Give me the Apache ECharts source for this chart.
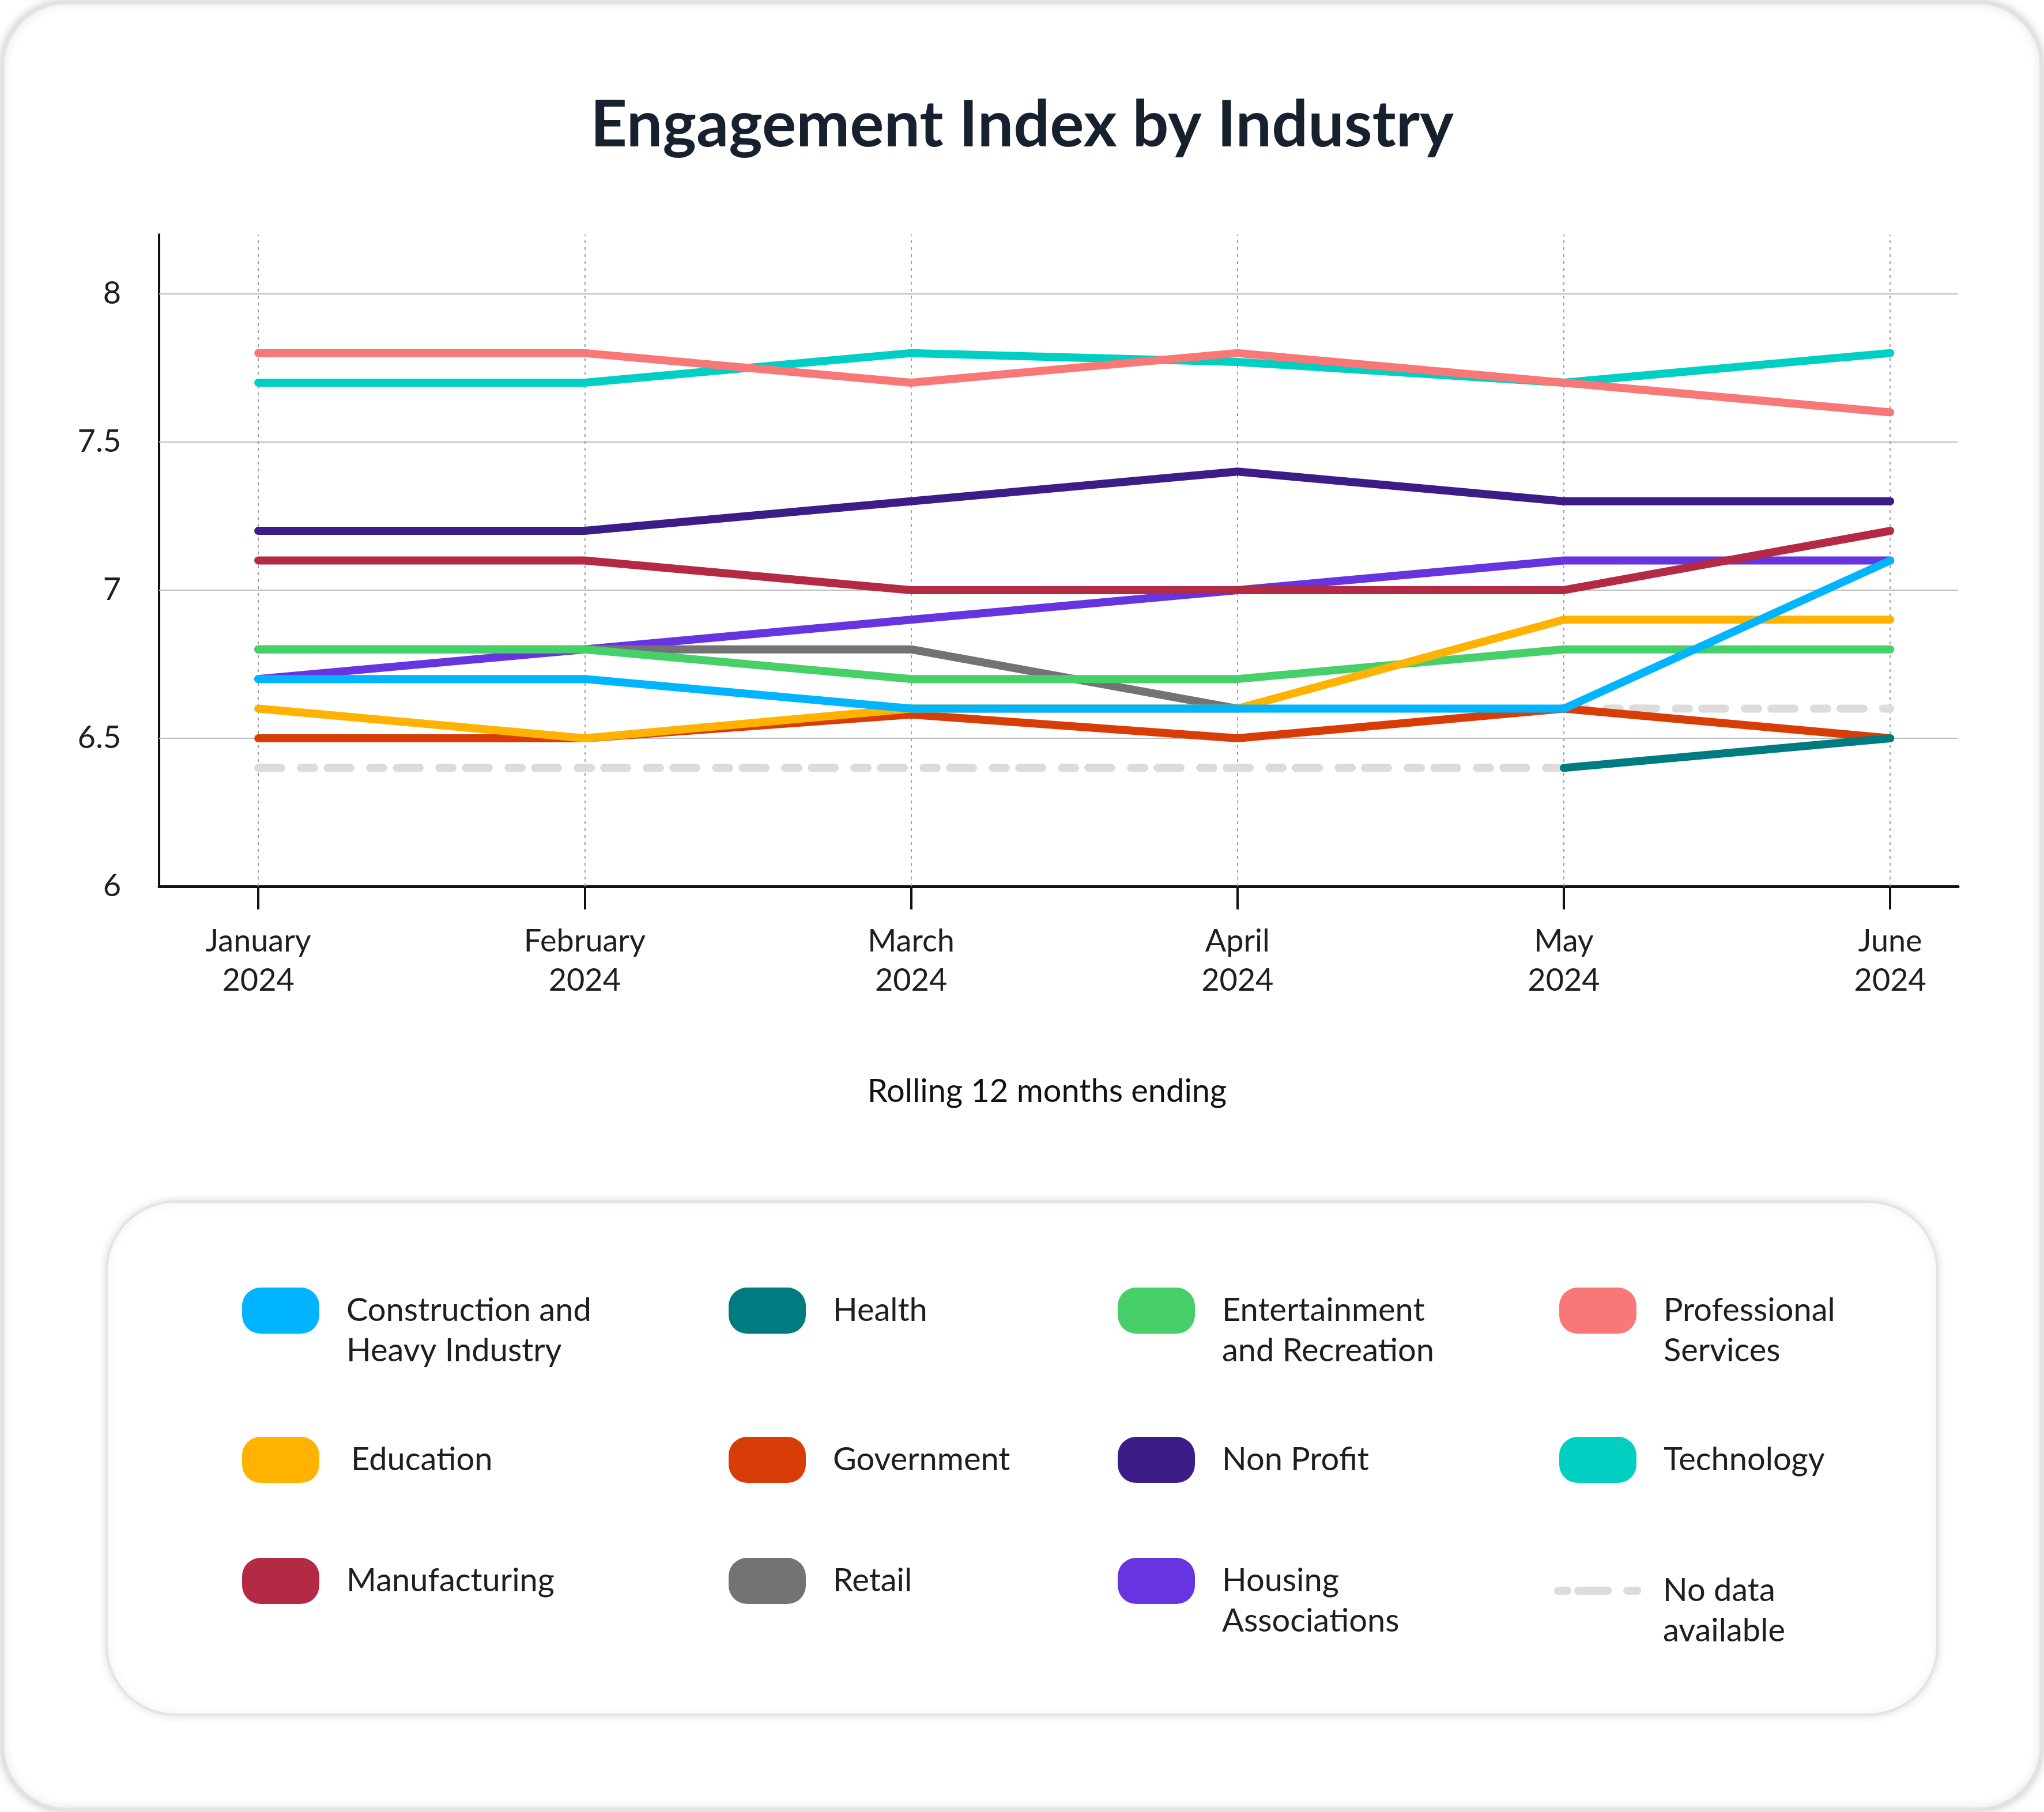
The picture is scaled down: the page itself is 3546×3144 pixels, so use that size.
<!DOCTYPE html>
<html><head><meta charset="utf-8">
<script src="https://cdn.jsdelivr.net/npm/echarts@6/dist/echarts.min.js"></script>
<style>html,body{margin:0;padding:0;background:#fff}#c{width:3546px;height:3144px}</style>
</head><body><div id="c"></div>
<script>
// ---------- DATA ----------
const months = ['January\n2024','February\n2024','March\n2024','April\n2024','May\n2024','June\n2024'];
const monthIdx = [0, 1, 2, 3, 4, 5];
const yTicks = [6, 6.5, 7, 7.5, 8];
const construction  = [6.7, 6.7, 6.6, 6.6, 6.6, 7.1];
const health        = [null, null, null, null, 6.4, 6.5];
const entertainment = [6.8, 6.8, 6.7, 6.7, 6.8, 6.8];
const professional  = [7.8, 7.8, 7.7, 7.8, 7.7, 7.6];
const education     = [6.6, 6.5, 6.6, 6.6, 6.9, 6.9];
const government    = [6.5, 6.5, 6.58, 6.5, 6.6, 6.5];
const nonProfit     = [7.2, 7.2, 7.3, 7.4, 7.3, 7.3];
const technology    = [7.7, 7.7, 7.8, 7.77, 7.7, 7.8];
const manufacturing = [7.1, 7.1, 7.0, 7.0, 7.0, 7.2];
const retail        = [6.8, 6.8, 6.8, 6.6, null, null];
const housing       = [6.7, 6.8, 6.9, 7.0, 7.1, 7.1];
const noDataHealth  = [6.4, 6.4, 6.4, 6.4, 6.4, null];
const noDataRetail  = [null, null, null, null, 6.6, 6.6];

const names = {
  construction: 'Construction and Heavy Industry', health: 'Health',
  entertainment: 'Entertainment and Recreation', professional: 'Professional Services',
  education: 'Education', government: 'Government', nonProfit: 'Non Profit',
  technology: 'Technology', manufacturing: 'Manufacturing', retail: 'Retail',
  housing: 'Housing Associations', noData: 'No data available'
};
const legendLabels = {
  'Construction and Heavy Industry': 'Construction and\nHeavy Industry',
  'Entertainment and Recreation': 'Entertainment\nand Recreation',
  'Professional Services': 'Professional\nServices',
  'Housing Associations': 'Housing\nAssociations',
  'No data available': 'No data\navailable'
};

// ---------- STYLE ----------
const FONT = 'Lato';
const LW = 14;
const colors = {
  construction: '#00b4ff', health: '#007b80', entertainment: '#47cf6a',
  professional: '#f87878', education: '#ffb300', government: '#d93d07',
  nonProfit: '#3c1c87', technology: '#00cfc2', manufacturing: '#b42a45',
  retail: '#737373', housing: '#6634e0', noData: '#dedbdb'
};
const toPairs = arr => arr.map((v, i) => [monthIdx[i], v == null ? '-' : v]);

function lineSeries(key, data, extra) {
  return Object.assign({
    type: 'line', name: names[key], data: toPairs(data),
    showSymbol: false, symbol: 'none', smooth: false, connectNulls: false,
    lineStyle: { color: colors[key], width: LW, cap: 'round', join: 'round' },
    itemStyle: { color: colors[key], borderWidth: 0 },
    emphasis: { disabled: true }, animation: false
  }, extra || {});
}
const dashPattern = [40, 34, 23, 23];
const noDataStyle = { color: colors.noData, width: LW, cap: 'round', type: dashPattern };

const series = [
  lineSeries('noData', noDataHealth, {
    lineStyle: noDataStyle,
    markLine: {
      silent: true, symbol: ['none', 'none'], animation: false, z: 1,
      label: { show: false },
      data: yTicks.filter(v => v > yTicks[0]).map(v => ({ yAxis: v, lineStyle: { color: '#bdbdbd', width: 2, type: 'solid' } }))
        .concat(monthIdx.map(i => ({ xAxis: i, lineStyle: { color: '#a0a0a0', width: 2, type: [5, 7] } })))
    }
  }),
  lineSeries('noData', noDataRetail, { lineStyle: noDataStyle }),
  lineSeries('technology', technology),
  lineSeries('professional', professional),
  lineSeries('nonProfit', nonProfit),
  lineSeries('housing', housing),
  lineSeries('manufacturing', manufacturing),
  lineSeries('retail', retail),
  lineSeries('entertainment', entertainment),
  lineSeries('government', government),
  lineSeries('education', education),
  lineSeries('construction', construction),
  lineSeries('health', health)
];

// legend layout: 4 columns x 3 rows
const legendGrid = [
  ['construction', 'health', 'entertainment', 'professional'],
  ['education', 'government', 'nonProfit', 'technology'],
  ['manufacturing', 'retail', 'housing', 'noData']
];
const colX = [420, 1264, 1939, 2705];
const rowY = [2274, 2533, 2743];
const pillIcon = 'path://M32,0 H102 A32,32 0 0 1 134,32 V48 A32,32 0 0 1 102,80 H32 A32,32 0 0 1 0,48 V32 A32,32 0 0 1 32,0 Z';
const dashIcon = 'path://M7,0 H23 A7,7 0 0 1 23,14 H7 A7,7 0 0 1 7,0 Z M42,0 H93 A7,7 0 0 1 93,14 H42 A7,7 0 0 1 42,0 Z M127,0 H144 A7,7 0 0 1 144,14 H127 A7,7 0 0 1 127,0 Z';
const LH = 70;
const legends = [];
legendGrid.forEach((row, r) => row.forEach((key, c) => {
  const nm = names[key];
  const label = legendLabels[nm] || nm;
  const lines = label.split('\n').length;
  const isDash = key === 'noData';
  const cy = isDash ? 2760 : rowY[r];
  const iconH = isDash ? 14 : 80;
  const blockH = Math.max(iconH, lines === 2 ? LH * 3 : LH);
  legends.push({
    data: [nm], orient: 'vertical', left: colX[c] - (isDash ? 9 : 0), top: cy - blockH / 2,
    padding: 0, selectedMode: false,
    icon: isDash ? dashIcon : pillIcon,
    itemWidth: isDash ? 151 : 134, itemHeight: iconH,
    itemStyle: { borderWidth: 0 },
    // a leading blank line keeps the first text line level with the icon
    formatter: n => { const t = legendLabels[n] || n; return t.indexOf('\n') >= 0 ? ' \n' + t : t; },
    textStyle: {
      fontFamily: FONT, fontSize: 56, lineHeight: LH, color: '#1e1e1e',
      padding: [0, 0, 0, isDash ? 33 : (key === 'education' ? 50 : 42)]
    }
  });
}));

const option = {
  backgroundColor: '#ffffff',
  animation: false,
  title: {
    text: 'Engagement Index by Industry', left: 'center', top: 158,
    textStyle: { fontFamily: FONT, fontWeight: 'bold', fontSize: 111, color: '#17212d' }
  },
  graphic: [
    { type: 'rect', z: -10, silent: true,
      shape: { x: 4, y: 4, width: 3538, height: 3136, r: 110 },
      style: { fill: '#ffffff', stroke: '#e2e2e2', lineWidth: 7, shadowBlur: 16, shadowColor: 'rgba(0,0,0,0.15)' } },
    { type: 'rect', z: -5, silent: true,
      shape: { x: 185, y: 2085, width: 3176, height: 890, r: 120 },
      style: { fill: '#ffffff', stroke: '#e4e4e4', lineWidth: 4, shadowBlur: 16, shadowColor: 'rgba(0,0,0,0.12)' } }
  ],
  grid: { left: 276, right: 149, top: 407, bottom: 1606, containLabel: false },
  xAxis: {
    type: 'value', min: -0.304, max: 5.208,
    axisLine: { show: true, onZero: false, lineStyle: { color: '#111', width: 5 } },
    axisTick: { show: true, customValues: monthIdx, length: 40, lineStyle: { color: '#111', width: 4 } },
    axisLabel: {
      customValues: monthIdx, formatter: v => months[Math.round(v)],
      margin: 62, fontFamily: FONT, fontSize: 54, lineHeight: 68, color: '#1e1e1e'
    },
    splitLine: { show: false },
    name: 'Rolling 12 months ending', nameLocation: 'middle', nameGap: 328,
    nameTextStyle: { fontFamily: FONT, fontSize: 56, color: '#111', padding: [0, 40, 0, 0] }
  },
  yAxis: {
    type: 'value', min: 6, max: 8.2,
    axisLine: { show: true, onZero: false, lineStyle: { color: '#111', width: 4 } },
    axisTick: { show: false },
    axisLabel: {
      customValues: yTicks, margin: 66, fontFamily: FONT, fontSize: 54, color: '#1e1e1e'
    },
    splitLine: { show: false }
  },
  legend: legends,
  series: series
};
const chart = echarts.init(document.getElementById('c'), null, { renderer: 'canvas' });
chart.setOption(option);
</script>
</body></html>
